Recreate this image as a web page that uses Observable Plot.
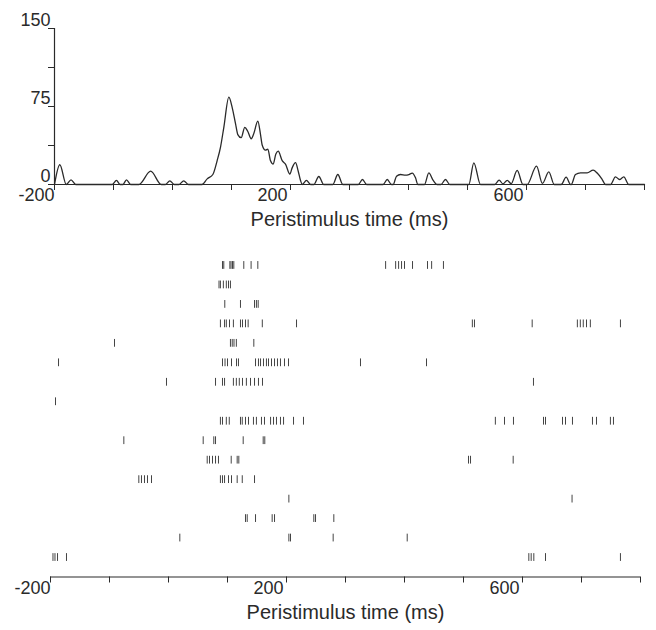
<!DOCTYPE html>
<html><head><meta charset="utf-8">
<script src="https://cdn.jsdelivr.net/npm/d3@7"></script>
<script src="https://cdn.jsdelivr.net/npm/@observablehq/plot@0.6"></script>
<style>body{margin:0;background:#fff;} #chart svg{display:block;}</style>
</head><body><div id="chart"></div>
<script>
// PSTH (spikes/s) sampled along peristimulus time (ms)
const psthTime = [-200,-191,-180,-172,-164,-102,-95,-89,-84,-78,-71,-57,-37,-19,-12,-4.5,3,11,19,27,
  50,58.8,68.4,75.7,81.4,87,95.5,101.2,106.8,110.7,116.4,122.5,127.7,133.4,137.8,144.6,149.2,152,157.6,161.6,
  166,170.7,175,179.1,185.9,191.5,198.9,202.8,208.5,213,217,220,227,234,239.5,248,256.4,271.7,280.2,288.7,
  315,322,329,357,364,371,374,379.7,386.4,394.9,400.6,406.3,411.9,415.8,427.1,434.5,441,448.6,455,462.7,470,
  502.3,510.7,522,546,553.7,560,567.3,574,584.2,594,601,617,627,637.8,647,658.8,667.2,674.6,675.8,683,691.5,
  702.8,713,719.8,728.3,733.9,742.4,750.8,757.6,764.9,773.4,800];
const psthRate = [0,19,0,4.5,0,0,4,0,0,4.5,0,0,12.8,0,0,3.5,0,0,3.5,0,
  0,5.4,9.6,23,36,55,84,74,58.5,48,45,55,51,44,49,61,48,38,33,34,
  23,19.6,29,32,23,19.6,10,16,21,13,3.8,0,4,0,0,7.7,0,0,9.6,0,
  0,4.8,0,0,4.8,0,0,8,9.6,9,9.6,11,6.4,0,0,11.2,4.8,0,0,4.8,0,
  0,20.8,0,0,4.2,0.6,4,0.8,13.5,0,0,17.6,1,12.2,0,0,7,0,0,9.6,11.2,
  11.2,13.8,11,4.8,0,0,7.4,4.8,7.4,0,0];

// Raster: spike times (ms) per trial, trial 1 at top
const spikeTimes = [
  [91.5,93.7,104,106,108.5,110.7,127.6,140,151.4,368,385,390,395,400,413.6,439,446,466],
  [85.6,88,93,98,101.7,105],
  [95.4,122,145.8,149,152],
  [88,95,98,103.4,110,122,125.4,130.5,135,159,217,515,518.6,616.4,693,698,703,708.5,715,766],
  [-91.5,105,108,111,115,144.6],
  [-186.4,91.5,95.8,100,106.8,115.3,118.6,147.5,152.5,156,161,166,169.5,174.6,179.7,184.7,189.8,196.6,203.4,325.4,437.3],
  [-3.4,79.7,91.5,95,110,115,120,125.4,132,139,145.8,152.5,159.3,618.6],
  [-191.5],
  [88,91.5,98,103,122,125,130.5,135.6,144,149,157.6,162.7,173,178,183,189.8,195,211.9,228.8,554,569.5,584.7,635.6,639,667.8,672.9,684.7,718.6,725.4,749,754.2],
  [-75.7,58.8,76.8,79.7,126.6,160.5,163.2],
  [65.6,69.5,74.6,79.7,84.7,106.3,116.4,119.2,508.5,511.9,584.2],
  [-50.3,-45.8,-40.7,-35.6,-28.8,88,91.5,95,101.7,106.8,116.4,125,145.8],
  [204,684],
  [130.5,133.4,147.5,175.7,179.7,246.3,249.2,280.2],
  [19.2,204,206.8,279.1,404.6],
  [-195.8,-192.4,-188.1,-172.9,610.7,614.7,619.2,639,766]
];

const xTicks = [-200,-100,0,100,200,300,400,500,600,700,800];
const xTickLabels = [-200,200,600];
const yTicks = [0,37.5,75,112.5,150];
const yTickLabels = [0,75,150];
const xLabel = "Peristimulus time (ms)";

const font = "'Liberation Sans', Arial, Helvetica, sans-serif";
const ink = "#2a2a2a";

const psth = psthTime.map((t, i) => ({t, v: psthRate[i]}));
const spikes = spikeTimes.flatMap((arr, i) => arr.map(t => ({trial: i + 1, t})));

const topPlot = Plot.plot({
  width: 656, height: 240,
  marginLeft: 54, marginRight: 12, marginTop: 28, marginBottom: 56,
  x: {domain: [-200, 800], axis: null},
  y: {domain: [0, 150], axis: null},
  style: {fontFamily: font, background: "#fff", color: ink},
  marks: [
    Plot.ruleY([0], {stroke: ink, strokeWidth: 1.2}),
    Plot.ruleX([-200], {y1: 0, y2: 150, stroke: ink, strokeWidth: 1.2}),
    Plot.axisX(xTicks, {anchor: "bottom", tickSize: 6, tickFormat: () => "", label: null, stroke: ink}),
    Plot.axisY(yTicks, {anchor: "left", tickSize: 6, tickFormat: () => "", label: null, stroke: ink}),
    Plot.line(psth, {x: "t", y: "v", curve: "monotone-x", stroke: ink, strokeWidth: 1.3}),
    Plot.text(xTickLabels, {x: d => d, text: d => String(d), frameAnchor: "bottom", dy: 16, dx: -18, fontSize: 18, fill: ink}),
    Plot.text(yTickLabels, {y: d => d, text: d => String(d), frameAnchor: "left", textAnchor: "end", dx: -4, dy: -8, fontSize: 18, fill: ink}),
    Plot.text([xLabel], {frameAnchor: "bottom", dy: 41, fontSize: 20, fill: ink})
  ]
});

const bottomPlot = Plot.plot({
  width: 656, height: 390,
  marginLeft: 50, marginRight: 16, marginTop: 5.5, marginBottom: 53.5,
  x: {domain: [-200, 800], axis: null},
  y: {domain: [17, 0], axis: null},
  style: {fontFamily: font, background: "#fff", color: ink},
  marks: [
    Plot.ruleY([17], {stroke: ink, strokeWidth: 1.2}),
    Plot.axisX(xTicks, {anchor: "bottom", tickSize: 6, tickFormat: () => "", label: null, stroke: ink}),
    Plot.ruleX(spikes, {x: "t", y1: d => d.trial - 0.2, y2: d => d.trial + 0.2, stroke: "#444", strokeWidth: 1}),
    Plot.text(xTickLabels, {x: d => d, text: d => String(d), frameAnchor: "bottom", dy: 17, dx: -18, fontSize: 18, fill: ink}),
    Plot.text([xLabel], {frameAnchor: "bottom", dy: 41.5, fontSize: 20, fill: ink})
  ]
});

const el = document.getElementById("chart");
el.appendChild(topPlot);
el.appendChild(bottomPlot);
</script>
</body></html>
